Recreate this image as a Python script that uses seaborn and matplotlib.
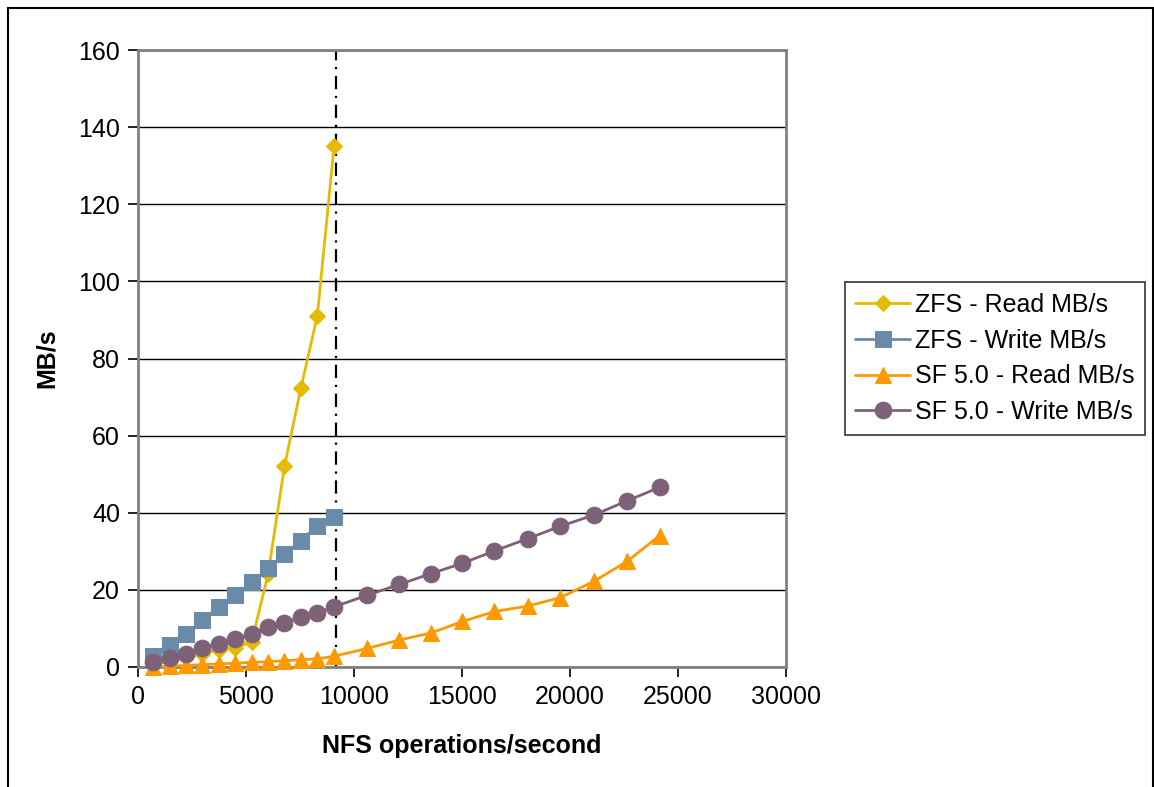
import matplotlib
matplotlib.use("Agg")
import matplotlib.pyplot as plt
import seaborn as sns
import pandas as pd
from matplotlib.patches import Rectangle

# ---- data ----
zfs_ops = [700, 1460, 2220, 2980, 3740, 4500, 5260, 6020, 6780, 7540, 8300, 9080]
zfs_read = [1.0, 1.5, 2.5, 3.5, 4.3, 5.0, 6.5, 24.0, 52.0, 72.3, 91.0, 135.2]
zfs_write = [2.8, 5.6, 8.6, 12.1, 15.5, 18.6, 22.0, 25.6, 29.2, 32.8, 36.6, 39.0]

sf_ops = [700, 1460, 2220, 2980, 3740, 4500, 5260, 6020, 6780, 7540, 8300, 9080,
          10600, 12100, 13550, 15020, 16500, 18050, 19550, 21100, 22650, 24150]
sf_read = [0.0, 0.2, 0.4, 0.6, 0.8, 1.0, 1.2, 1.4, 1.6, 1.9, 2.1, 2.8,
           4.8, 7.0, 8.8, 11.8, 14.4, 15.8, 18.0, 22.2, 27.4, 34.1]
sf_write = [1.2, 2.4, 3.5, 4.8, 6.0, 7.2, 8.5, 10.4, 11.4, 12.9, 14.0, 15.6,
            18.6, 21.4, 24.2, 26.9, 30.1, 33.3, 36.5, 39.4, 43.1, 46.6]

series_names = ["ZFS - Read MB/s", "ZFS - Write MB/s", "SF 5.0 - Read MB/s", "SF 5.0 - Write MB/s"]
x_ticks = [0, 5000, 10000, 15000, 20000, 25000, 30000]
y_ticks = [0, 20, 40, 60, 80, 100, 120, 140, 160]
x_label = "NFS operations/second"
y_label = "MB/s"
vline_x = 9170

colors = ["#E6BA00", "#6A8AAA", "#FF9900", "#7D6176"]
markers = ["D", "s", "^", "o"]
msizes = [8.3, 11.0, 12.0, 12.0]

sns.set_theme(style="white")
plt.rcParams["font.family"] = ["Liberation Sans", "DejaVu Sans"]
plt.rcParams.update({"text.color": "black", "axes.labelcolor": "black",
                     "xtick.color": "black", "ytick.color": "black"})

fig = plt.figure(figsize=(11.54, 7.87), dpi=100)
ax = fig.add_axes([138/1154, 1-667/787, (786-138)/1154, (667-50)/787])

data = [(zfs_ops, zfs_read), (zfs_ops, zfs_write), (sf_ops, sf_read), (sf_ops, sf_write)]
for (xs, ys), name, c, m, ms in zip(data, series_names, colors, markers, msizes):
    df = pd.DataFrame({"x": xs, "y": ys})
    sns.lineplot(data=df, x="x", y="y", ax=ax, color=c, marker=m, markersize=ms,
                 markeredgecolor=c, linewidth=2.0, label=name, sort=False,
                 estimator=None, clip_on=False, zorder=3)

ax.set_xlim(0, 30000)
ax.set_ylim(0, 160)
ax.set_xticks(x_ticks)
ax.set_yticks(y_ticks)
ax.tick_params(axis="both", labelsize=18, length=7, width=1.2, color="black",
               labelcolor="black", direction="out", bottom=True, left=True, pad=6)
ax.yaxis.grid(True, color="black", linewidth=1.0)
ax.xaxis.grid(False)
ax.set_axisbelow(True)
for s in ax.spines.values():
    s.set_color("#808080")
    s.set_linewidth(2.0)

ax.axvline(vline_x, color="black", linestyle=(0, (6, 3, 1, 3)), linewidth=1.6, zorder=2)

ax.set_xlabel(x_label, fontsize=18, fontweight="bold", labelpad=18, color="black")
ax.set_ylabel(y_label, fontsize=18, fontweight="bold", labelpad=14, color="black")

leg = ax.legend(loc="center left", bbox_to_anchor=(1.091, 0.5), fontsize=18,
                frameon=True, fancybox=False, edgecolor="black", handlelength=2.2,
                handletextpad=0.2, borderpad=0.42, labelspacing=0.47, borderaxespad=0)
leg.get_frame().set_linewidth(1.2)
for t in leg.get_texts():
    t.set_color("black")

fig.patches.append(Rectangle((8/1154, -0.05), (1153-8)/1154, 1.05 - 8/787,
                             transform=fig.transFigure, fill=False,
                             edgecolor="black", linewidth=1.5))

fig.savefig("out.png", dpi=100, facecolor="white")
